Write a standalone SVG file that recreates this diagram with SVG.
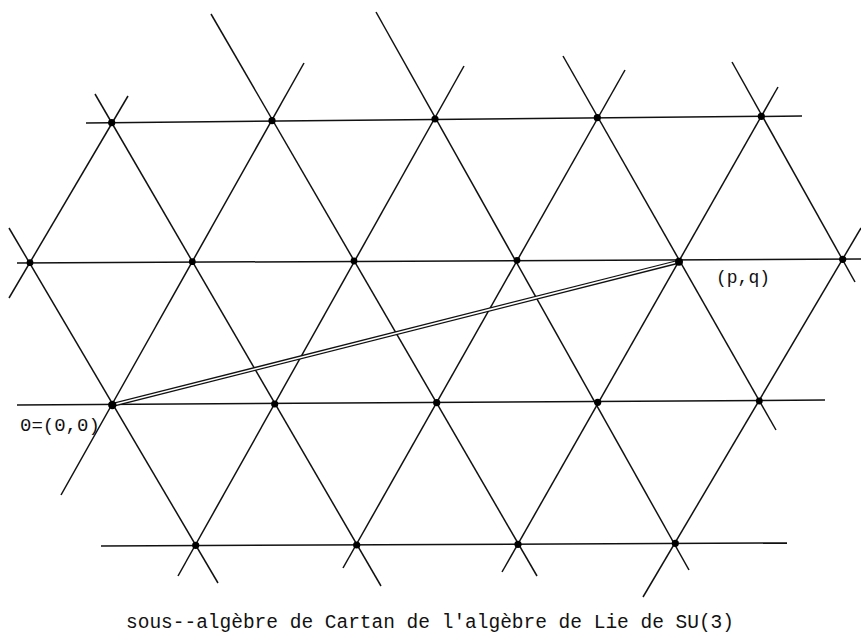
<svg xmlns="http://www.w3.org/2000/svg" width="861" height="634" viewBox="0 0 861 634">
<style>
.ln{stroke:#111;stroke-width:1.5;fill:none;stroke-linecap:butt}
.pt{fill:#000}
.lbl{font-family:"Liberation Mono","DejaVu Sans Mono",monospace;fill:#111}
</style>
<rect width="861" height="634" fill="#fff"/>
<g id="connectors">
  <!-- horizontal lines -->
  <line class="ln" x1="86" y1="123" x2="802" y2="116"/>
  <line class="ln" x1="17" y1="263" x2="861" y2="259"/>
  <line class="ln" x1="17" y1="405" x2="825" y2="400"/>
  <line class="ln" x1="101" y1="546" x2="787" y2="543"/>
  <!-- rising lines -->
  <line class="ln" x1="128" y1="96" x2="9" y2="298"/>
  <line class="ln" x1="304" y1="63" x2="61" y2="495"/>
  <line class="ln" x1="464" y1="66" x2="178" y2="576"/>
  <line class="ln" x1="625" y1="70" x2="343" y2="568"/>
  <line class="ln" x1="778" y1="87" x2="502" y2="572"/>
  <line class="ln" x1="861" y1="228" x2="643" y2="597"/>
  <!-- falling lines -->
  <line class="ln" x1="9" y1="228" x2="218" y2="583"/>
  <line class="ln" x1="95" y1="94" x2="381" y2="586"/>
  <line class="ln" x1="211" y1="14" x2="537" y2="576"/>
  <line class="ln" x1="376" y1="12" x2="689" y2="570"/>
  <line class="ln" x1="563" y1="56" x2="776" y2="430"/>
  <line class="ln" x1="732" y1="62" x2="855" y2="282"/>
  <!-- double vector from origin to (p,q) -->
  <g id="vector">
    <line x1="112.3" y1="405" x2="679" y2="261.7" stroke="#111" stroke-width="4.2"/>
    <line x1="114" y1="404.6" x2="677" y2="262.1" stroke="#fff" stroke-width="1.5"/>
  </g>
</g>
<g id="points">
  <g id="p-r1-1"><circle class="pt" cx="111.7" cy="122.7" r="3.6"/></g>
  <g id="p-r1-2"><circle class="pt" cx="272" cy="120.7" r="3.6"/></g>
  <g id="p-r1-3"><circle class="pt" cx="435" cy="119" r="3.6"/></g>
  <g id="p-r1-4"><circle class="pt" cx="597.3" cy="117.7" r="3.6"/></g>
  <g id="p-r1-5"><circle class="pt" cx="761.3" cy="116.3" r="3.6"/></g>
  <g id="p-r2-1"><circle class="pt" cx="30" cy="262.7" r="3.4"/></g>
  <g id="p-r2-2"><circle class="pt" cx="192.3" cy="261.7" r="3.4"/></g>
  <g id="p-r2-3"><circle class="pt" cx="354" cy="261" r="3.4"/></g>
  <g id="p-r2-4"><circle class="pt" cx="517" cy="260.3" r="3.4"/></g>
  <g id="p-pq"><circle class="pt" cx="679" cy="261.7" r="4"/></g>
  <g id="p-r2-6"><circle class="pt" cx="842.7" cy="259.3" r="3.6"/></g>
  <g id="p-origin"><circle class="pt" cx="112.3" cy="405" r="4.2"/></g>
  <g id="p-r3-2"><circle class="pt" cx="274.7" cy="404" r="3.6"/></g>
  <g id="p-r3-3"><circle class="pt" cx="436.7" cy="402.7" r="3.6"/></g>
  <g id="p-r3-4"><circle class="pt" cx="597.7" cy="402.3" r="3.6"/></g>
  <g id="p-r3-5"><circle class="pt" cx="759.3" cy="401" r="3.4"/></g>
  <g id="p-r4-1"><circle class="pt" cx="195.7" cy="545.3" r="3.6"/></g>
  <g id="p-r4-2"><circle class="pt" cx="356.7" cy="545" r="3.6"/></g>
  <g id="p-r4-3"><circle class="pt" cx="518" cy="544.3" r="3.6"/></g>
  <g id="p-r4-4"><circle class="pt" cx="675.3" cy="543.3" r="3.6"/></g>
</g>
<g id="labels">
  <text id="label-origin" class="lbl" x="20" y="431" font-size="19">0=(0,0)</text>
  <text id="label-pq" class="lbl" x="716" y="283" font-size="18">(p,q)</text>
  <text id="caption" class="lbl" x="126" y="628" font-size="19.5" textLength="608" lengthAdjust="spacing">sous--algèbre de Cartan de l'algèbre de Lie de SU(3)</text>
</g>
</svg>
